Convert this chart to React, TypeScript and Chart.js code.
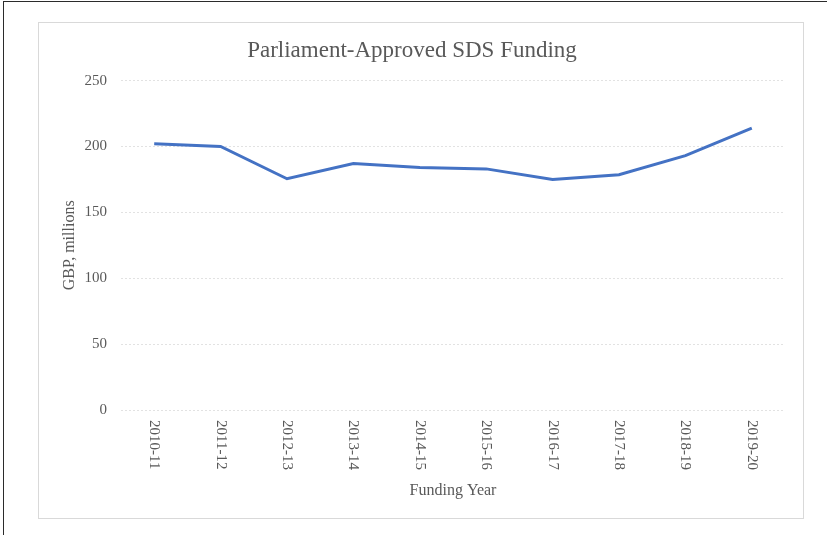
import React, { useEffect, useRef } from "react";
import { Chart, registerables } from "chart.js";

Chart.register(...registerables);

const categories = [
  "2010-11", "2011-12", "2012-13", "2013-14", "2014-15",
  "2015-16", "2016-17", "2017-18", "2018-19", "2019-20",
];
const funding = [202, 200, 175.5, 187, 184, 183, 175, 178.5, 193, 214];
const yTicks = [0, 50, 100, 150, 200, 250];

const FONT = "'Liberation Serif', 'Times New Roman', serif";
const TEXT = "#595959";

const xLabelPlugin = {
  id: "xLabelsClockwise",
  afterDraw(chart: any) {
    const ctx = chart.ctx;
    const xs = chart.scales.x;
    const area = chart.chartArea;
    ctx.save();
    ctx.font = `15px ${FONT}`;
    ctx.fillStyle = TEXT;
    ctx.textAlign = "left";
    ctx.textBaseline = "middle";
    categories.forEach((lab, i) => {
      const x = xs.getPixelForTick(i);
      ctx.save();
      ctx.translate(x, area.bottom + 10);
      ctx.rotate(Math.PI / 2);
      ctx.fillText(lab, 0, 0);
      ctx.restore();
    });
    ctx.restore();
  },
};

export default function App() {
  const ref = useRef<HTMLCanvasElement | null>(null);
  useEffect(() => {
    if (!ref.current) return;
    const chart = new Chart(ref.current, {
      type: "line",
      data: {
        labels: categories,
        datasets: [
          {
            data: funding,
            borderColor: "#4472C4",
            backgroundColor: "#4472C4",
            borderWidth: 3,
            pointRadius: 0,
            tension: 0,
          },
        ],
      },
      options: {
        animation: false,
        responsive: false,
        layout: { padding: { left: 0, right: 18, top: 0, bottom: 0 } },
        plugins: {
          legend: { display: false },
          tooltip: { enabled: false },
          title: {
            display: true,
            text: "Parliament-Approved SDS Funding",
            color: TEXT,
            font: { family: FONT, size: 23, weight: "normal" },
            padding: { top: 14, bottom: 16 },
          },
        },
        scales: {
          x: {
            type: "category",
            offset: true,
            grid: { display: false, drawTicks: false },
            border: { display: false },
            ticks: { display: false },
            title: {
              display: true,
              text: "Funding Year",
              color: TEXT,
              font: { family: FONT, size: 16 },
              padding: { top: 0, bottom: 18 },
            },
            afterFit(scale: any) {
              scale.height = 108;
            },
          },
          y: {
            min: 0,
            max: 250,
            afterBuildTicks(scale: any) {
              scale.ticks = yTicks.map((v) => ({ value: v }));
            },
            grid: {
              color: "#e2e2e2",
              drawTicks: false,
              lineWidth: 1,
            },
            border: { display: false, dash: [2, 2] },
            ticks: {
              color: TEXT,
              font: { family: FONT, size: 15 },
              padding: 14,
            },
            title: {
              display: true,
              text: "GBP, millions",
              color: TEXT,
              font: { family: FONT, size: 16 },
              padding: { top: 21, bottom: 0 },
            },
            afterFit(scale: any) {
              scale.width = 82;
            },
          },
        },
      },
      plugins: [xLabelPlugin],
    } as any);
    return () => chart.destroy();
  }, []);

  return (
    <div style={{ position: "absolute", left: 0, top: 0, width: 827, height: 535, background: "#fff" }}>
      <div style={{ position: "absolute", left: 3, top: 1, width: 824, height: 534, borderTop: "1px solid #2b2b2b", borderLeft: "1px solid #2b2b2b", boxSizing: "border-box" }} />
      <div style={{ position: "absolute", left: 38, top: 22, width: 766, height: 497, border: "1px solid #d9d9d9", boxSizing: "border-box" }} />
      <canvas ref={ref} width={764} height={495} style={{ position: "absolute", left: 39, top: 23 }} />
    </div>
  );
}
